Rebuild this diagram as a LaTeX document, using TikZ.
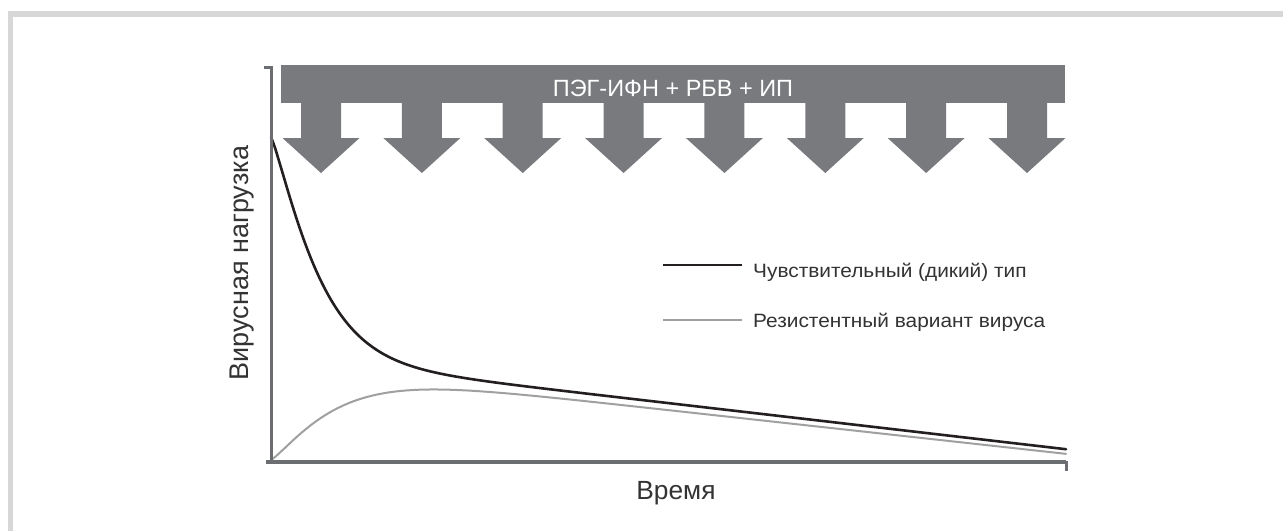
\documentclass[tikz,border=0pt]{standalone}
\usepackage{fontspec}
\setmainfont{Liberation Sans}
\newfontfamily\legendfont[FakeStretch=1.08]{Liberation Sans}
\definecolor{framegray}{RGB}{215,215,215}
\definecolor{bannergray}{RGB}{121,122,126}
\definecolor{axisgray}{RGB}{108,109,112}
\definecolor{curveblack}{RGB}{35,31,32}
\definecolor{curvegray}{RGB}{160,160,162}
\begin{document}
\begin{tikzpicture}[x=1pt,y=-1pt,
  axisline/.style={draw=axisgray,line width=3pt},
  blackcurve/.style={draw=curveblack,line width=2.6pt,line cap=round},
  graycurve/.style={draw=curvegray,line width=2pt,line cap=round},
  legendtext/.style={anchor=base west,inner sep=0pt,font=\legendfont\fontsize{19.3}{19.3}\selectfont,text=black!80},
  axislabel/.style={inner sep=0pt,text=black!80}]
\useasboundingbox (0,0) rectangle (1283,531);
\fill[white] (0,0) rectangle (1283,531);
% frame
\fill[framegray] (8,11) rectangle (13,531);
\fill[framegray] (8,11) rectangle (1283,16.5);
% banner with arrows
\fill[bannergray] (281,65) rectangle (1065,103);
\foreach \i in {0,...,7}{
  \pgfmathsetmacro\cx{321+\i*100.857}
  \fill[bannergray] (\cx-20,102) -- (\cx-20,138) -- (\cx-38.5,138) -- (\cx,173)
     -- (\cx+38.5,138) -- (\cx+20,138) -- (\cx+20,102) -- cycle;
}
\node[anchor=base,inner sep=0pt,text=white,font=\fontsize{23.5}{23.5}\selectfont] (banner) at (673,96) {ПЭГ-ИФН + РБВ + ИП};
% curves
\draw[graycurve] plot[domain=0:795,samples=160,smooth]
  ({271+\x},{460-(93.6-0.110*\x)*(1-exp(-(\x/71.5)^1.2))});
\draw[blackcurve] plot[domain=0:795,samples=200,smooth]
  ({271+\x},{461-(220*exp(-(\x/50.4)^1.2)+104-0.116*\x)});
% axes
\coordinate (ytop) at (271,67);
\coordinate (origin) at (271,462);
\coordinate (xend) at (1066,462);
\draw[axisline] (264,67) -- (ytop) -- (origin);
\draw[axisline,line width=3.5pt] (266,462) -- (xend);
\draw[axisline] (1066,460.5) -- (1066,471);
% legend
\coordinate (l1a) at (663,265); \coordinate (l1b) at (742,265);
\coordinate (l2a) at (663,320); \coordinate (l2b) at (742,320);
\draw[blackcurve,line cap=butt] (l1a) -- (l1b);
\draw[graycurve,line cap=butt] (l2a) -- (l2b);
\node[legendtext] (leg1) at (753,277) {Чувствительный (дикий) тип};
\node[legendtext] (leg2) at (753,327) {Резистентный вариант вируса};
% axis labels
\node[axislabel,anchor=base,font=\fontsize{26.3}{26.3}\selectfont] (xlab) at (676,499) {Время};
\node[axislabel,anchor=base,rotate=90,font=\fontsize{27}{27}\selectfont] (ylab) at (248,263) {Вирусная нагрузка};
\end{tikzpicture}
\end{document}
